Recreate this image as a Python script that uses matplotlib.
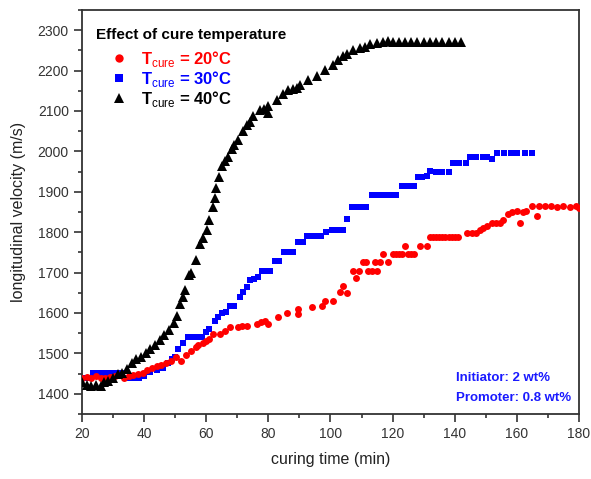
import matplotlib
matplotlib.use("Agg")
import matplotlib.pyplot as plt
from matplotlib.ticker import MultipleLocator

plt.rcParams['font.family'] = ['Liberation Sans', 'DejaVu Sans']
plt.rcParams['mathtext.fontset'] = 'custom'
plt.rcParams['mathtext.rm'] = 'Liberation Sans'
plt.rcParams['mathtext.bf'] = 'Liberation Sans:bold'

# ---- data ----
black_x = [20, 21.5, 23, 24.5, 26, 27, 28.5, 30, 31.5, 33, 34.5, 36, 37.5, 39, 40.5, 42, 43.5, 45,
           46.5, 48, 49.5, 50.5, 51.5, 52.5, 53.2, 54.4, 55, 56.7, 58, 59, 60.2, 60.9, 62.2, 62.8,
           63.1, 64.1, 65, 66, 67, 68.3, 69, 70.2, 71.8, 73, 74, 75, 77.3, 78.5, 80, 80, 82.8, 84.7,
           86.3, 88, 89.2, 90.2, 92.8, 95.6, 98.2, 100.8, 102.4, 104, 105.3, 107.3, 109.5, 111,
           112.7, 115, 117, 118.5, 120, 122, 124, 126, 128, 130, 132, 134, 136, 138, 140, 142]
black_y = [1430, 1422, 1420, 1422, 1420, 1428, 1432, 1440, 1448, 1452, 1462, 1475, 1485, 1492, 1502,
           1512, 1522, 1532, 1545, 1558, 1575, 1592, 1622, 1640, 1657, 1695, 1700, 1730, 1770, 1785,
           1805, 1830, 1862, 1885, 1910, 1937, 1965, 1975, 1985, 2005, 2015, 2027, 2050, 2065, 2072,
           2087, 2102, 2105, 2095, 2112, 2127, 2142, 2152, 2155, 2157, 2165, 2177, 2187, 2202, 2215,
           2227, 2237, 2242, 2250, 2255, 2258, 2265, 2267, 2270, 2272, 2270, 2270, 2270, 2270, 2270,
           2270, 2270, 2270, 2270, 2270, 2270, 2270]

blue_x = [20.5, 22, 23.5, 25, 26.5, 28, 29.5, 31, 32.5, 34, 35.5, 37, 38.5, 40, 42, 44, 46, 47.7, 49,
          50, 51, 52.5, 54, 55.5, 57, 58.5, 60, 61, 62.8, 63.8, 65, 66.5, 67.5, 69, 70.9, 71.9, 73,
          74, 75.5, 76.7, 78, 79.5, 80.5, 82, 83.5, 85, 86.5, 88, 89.5, 91, 92.5, 94, 95.5, 97, 98.5,
          100.5, 102, 104, 105.3, 107, 108.5, 110, 111.5, 113.4, 115, 116.5, 118, 119.5, 121, 123,
          125, 127, 128.2, 129.5, 131, 132, 134, 136, 138, 139.5, 141.5, 143.5, 145, 147, 149, 150.5,
          152, 153.6, 156, 158, 160, 162.5, 165]
blue_y = [1440, 1440, 1452, 1452, 1452, 1452, 1452, 1452, 1452, 1440, 1440, 1440, 1440, 1445, 1455,
          1458, 1465, 1477, 1485, 1492, 1510, 1525, 1540, 1540, 1540, 1540, 1552, 1560, 1580, 1590,
          1600, 1602, 1617, 1617, 1640, 1652, 1665, 1682, 1685, 1690, 1705, 1705, 1705, 1728, 1728,
          1752, 1752, 1752, 1775, 1775, 1790, 1790, 1790, 1790, 1800, 1805, 1805, 1805, 1832, 1862,
          1862, 1862, 1862, 1892, 1892, 1892, 1892, 1892, 1892, 1915, 1915, 1915, 1937, 1937, 1940,
          1952, 1950, 1950, 1950, 1970, 1970, 1970, 1985, 1985, 1985, 1985, 1980, 1997, 1997, 1997,
          1997, 1997, 1995]

red_x = [20, 21.5, 23, 24.5, 26, 27.5, 29, 30.5, 32, 33.5, 35, 36.5, 38, 39.5, 41, 42.5, 44, 45.5,
         47, 48.5, 50.3, 52, 53.5, 55, 56.7, 57.5, 59, 60, 61, 62.2, 64.4, 66, 67.6, 70.2, 71.5, 73,
         76.3, 77.5, 78.9, 80, 83, 86, 89.5, 89.5, 94, 97.3, 98.2, 100.8, 103, 104, 105.3, 107.3,
         108.2, 109.3, 110.5, 111.5, 112, 113.5, 114.3, 115, 116, 117, 118.5, 120, 121, 122, 123,
         124, 125, 126, 127, 128.8, 131, 132, 133, 134, 135, 136, 137, 138, 139, 140, 141, 144,
         145.5, 147, 148, 149, 150.4, 152, 153.3, 154.6, 155.6, 157, 158.5, 160, 161, 162, 163, 165,
         166.5, 167, 169, 171, 173, 175, 177, 179, 180]
red_y = [1440, 1442, 1440, 1445, 1440, 1438, 1442, 1445, 1447, 1440, 1445, 1447, 1450, 1452, 1460,
         1465, 1470, 1472, 1477, 1482, 1490, 1480, 1497, 1505, 1515, 1520, 1525, 1530, 1535, 1547,
         1547, 1555, 1565, 1565, 1567, 1567, 1572, 1577, 1580, 1572, 1590, 1600, 1610, 1597, 1615,
         1617, 1630, 1630, 1652, 1667, 1650, 1705, 1687, 1705, 1727, 1727, 1705, 1705, 1727, 1705,
         1727, 1747, 1727, 1747, 1747, 1747, 1747, 1767, 1747, 1747, 1747, 1767, 1767, 1787, 1787,
         1787, 1787, 1787, 1787, 1787, 1787, 1787, 1787, 1797, 1797, 1797, 1805, 1810, 1815, 1822,
         1822, 1822, 1830, 1845, 1850, 1852, 1822, 1850, 1852, 1865, 1840, 1865, 1865, 1865, 1862,
         1865, 1862, 1865, 1860]

labels = [r'$\mathbf{T}_{\mathrm{cure}}$ = 20°C', r'$\mathbf{T}_{\mathrm{cure}}$ = 30°C',
          r'$\mathbf{T}_{\mathrm{cure}}$ = 40°C']
legend_title = 'Effect of cure temperature'
note_lines = ['Initiator: 2 wt%', 'Promoter: 0.8 wt%']

fig = plt.figure(figsize=(5.91, 4.79), dpi=100)
ax = fig.add_axes([0.1387, 0.1357, 0.841, 0.8435])

hb, = ax.plot(blue_x, blue_y, 's', color='#0000ff', markersize=4.5, markeredgewidth=0, zorder=3)
hr, = ax.plot(red_x, red_y, 'o', color='#ff0000', markersize=5, markeredgewidth=0, zorder=4)
hk, = ax.plot(black_x, black_y, '^', color='black', markersize=6.5, markeredgewidth=0, zorder=5)

ax.set_xlim(20, 180)
ax.set_ylim(1350, 2350)
ax.xaxis.set_major_locator(MultipleLocator(20))
ax.xaxis.set_minor_locator(MultipleLocator(10))
ax.yaxis.set_major_locator(MultipleLocator(100))
ax.yaxis.set_minor_locator(MultipleLocator(50))
ax.tick_params(which='both', direction='out', top=False, right=False, colors='#333333',
               labelsize=10, width=1.2)
ax.tick_params(which='major', length=6)
ax.tick_params(which='minor', length=3)
ax.set_yticks([1400, 1500, 1600, 1700, 1800, 1900, 2000, 2100, 2200, 2300])
for s in ax.spines.values():
    s.set_color('#333333')
    s.set_linewidth(1.3)

ax.set_xlabel('curing time (min)', fontsize=11.5, color='#222222', labelpad=8)
ax.set_ylabel('longitudinal velocity (m/s)', fontsize=11.5, color='#222222', labelpad=8)

ax.text(0.028, 0.938, legend_title, transform=ax.transAxes, fontsize=11, fontweight='bold',
        color='black', ha='left', va='center')
leg = ax.legend([hr, hb, hk], labels, loc='upper left', bbox_to_anchor=(0.014, 0.932),
                frameon=False,
                prop={'weight': 'bold', 'size': 12}, labelcolor=['#ff0000', '#0000ff', 'black'],
                handletextpad=0.2, labelspacing=0.0, borderpad=0.2, markerscale=1.2,
                handlelength=2.2)

ax.text(0.752, 0.089, note_lines[0], transform=ax.transAxes, color='#1a1aff', fontsize=9.5,
        fontweight='bold', ha='left', va='center')
ax.text(0.752, 0.040, note_lines[1], transform=ax.transAxes, color='#1a1aff', fontsize=9.5,
        fontweight='bold', ha='left', va='center')

fig.savefig('out.png', dpi=100)
